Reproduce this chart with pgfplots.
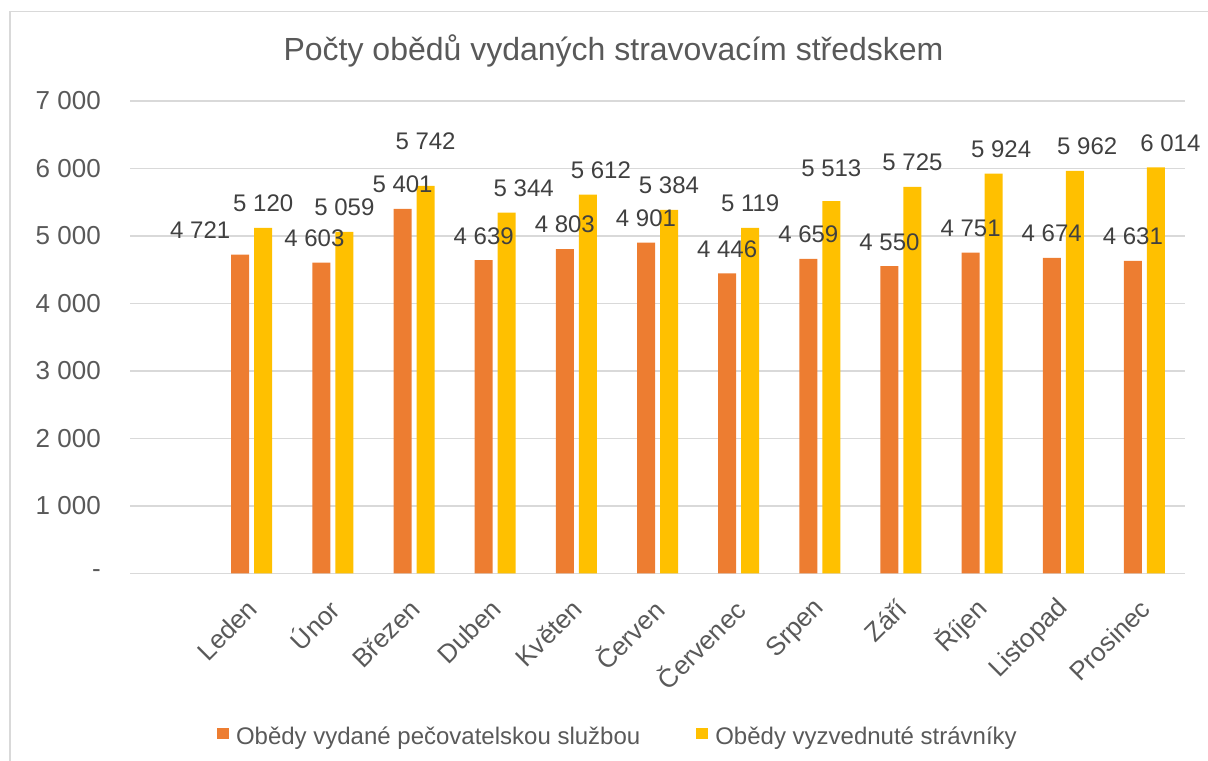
\documentclass[border=0pt]{standalone}
\usepackage{pgfplots}
\pgfplotsset{compat=1.18}
\usepackage{pgfplotstable}
\usepackage{fontspec}
\setmainfont{Liberation Sans}
\definecolor{orangebar}{HTML}{ED7D31}
\definecolor{yellowbar}{HTML}{FFC000}
\definecolor{gridgray}{HTML}{D9D9D9}
\definecolor{txtgray}{HTML}{595959}
\definecolor{lblgray}{HTML}{404040}

\pgfplotstableread{
x y dx dy
1 4721 -40 0
2 4603 -7 0
3 5401 0 0
4 4639 0 0
5 4803 0 0
6 4901 0 0
7 4446 0 0
8 4659 0 0
9 4550 0 0
10 4751 0 0
11 4674 0 0
12 4631 0 0
}\orangedata

\pgfplotstableread{
x y dx dy
1 5120 0 0
2 5059 0 0
3 5742 0 20
4 5344 17 0
5 5612 13 0
6 5384 0 0
7 5119 0 0
8 5513 0 8.5
9 5725 0 0
10 5924 7.5 0
11 5962 12.5 0
12 6014 14.5 0
}\yellowdata

\pgfplotsset{
  mylegend/.style={legend image code/.code={\path (0bp,21bp); \fill[##1] (0bp,-2.5bp) rectangle (12bp,9bp);}},
  mylabels/.style={
    nodes near coords={\pgfmathprintnumber[fixed,precision=0,1000 sep={\ },assume math mode=true]{\pgfplotspointmeta}},
    visualization depends on={\thisrow{dx} \as \dx},
    visualization depends on={\thisrow{dy} \as \dy},
    every node near coord/.append style={anchor=base, inner sep=0pt,
      font=\fontsize{24bp}{28bp}\selectfont, text=lblgray,
      xshift={\dx*1bp}, yshift={16.2bp+\dy*1bp}},
  },
}

\begin{document}
\begin{tikzpicture}
\useasboundingbox (0,0) rectangle (1208bp,761bp);
\draw[gridgray, line width=1.5bp] (10bp,0) -- (10bp,749.5bp) -- (1208bp,749.5bp);
\begin{axis}[
  at={(130bp,187.7bp)}, anchor=south west,
  scale only axis, width=1055bp, height=472.4bp,
  xmin=-0.5, xmax=12.5, ymin=0, ymax=7000,
  ybar, bar width=18bp,
  clip=false,
  axis line style={draw=none},
  major tick length=0pt,
  xtick style={draw=none}, ytick style={draw=none},
  xtick={1,...,12},
  xticklabels={Leden,Únor,Březen,Duben,Květen,Červen,Červenec,Srpen,Září,Říjen,Listopad,Prosinec},
  ytick={0,1000,2000,3000,4000,5000,6000,7000},
  yticklabels={{-},{1 000},{2 000},{3 000},{4 000},{5 000},{6 000},{7 000}},
  ymajorgrids, major grid style={gridgray, line width=1.5bp},
  xticklabel style={font=\fontsize{26bp}{30bp}\selectfont, text=txtgray, inner sep=0pt,
    xshift=1bp, yshift=-31bp, rotate=45, anchor=east},
  yticklabel style={font=\fontsize{26bp}{30bp}\selectfont, text=txtgray, inner sep=0pt, xshift=-29bp},
  title={Počty obědů vydaných stravovacím středskem},
  every axis title/.style={at={(0.4583,1.0847)}, anchor=base, inner sep=0pt,
    font=\fontsize{32bp}{38bp}\selectfont, text=txtgray},
  legend columns=2,
  legend style={at={(0.0825,-0.3338)}, anchor=west, draw=none, fill=none,
    inner sep=0pt, outer sep=0pt, font=\fontsize{24bp}{28bp}\selectfont, text=txtgray,
    nodes={inner sep=0pt},
    /tikz/every odd column/.append style={column sep=7bp},
    /tikz/every even column/.append style={column sep=56bp}},
  legend cell align=left,
]
\addplot[fill=orangebar, draw=none, bar shift=-11.5bp, mylegend, mylabels]
  table[x=x, y=y] {\orangedata};
\addlegendentry{Obědy vydané pečovatelskou službou}
\addplot[fill=yellowbar, draw=none, bar shift=11.5bp, mylegend, mylabels]
  table[x=x, y=y] {\yellowdata};
\addlegendentry{Obědy vyzvednuté strávníky}
\end{axis}
\end{tikzpicture}
\end{document}
